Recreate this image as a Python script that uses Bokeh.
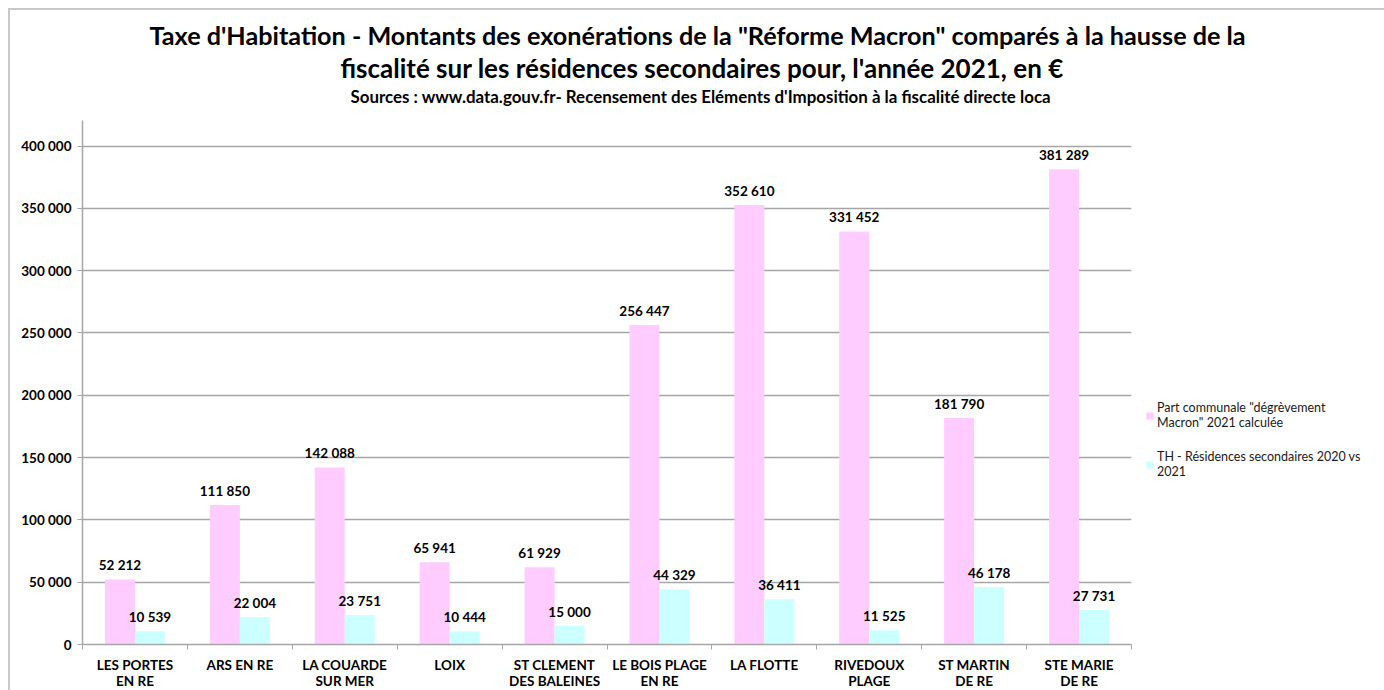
from bokeh.plotting import figure
from bokeh.models import ColumnDataSource, FixedTicker, Legend, LegendItem, Title
from bokeh.core.properties import value
from bokeh.embed import file_html
from bokeh.resources import INLINE
import numpy as np

communes = ["LES PORTES\nEN RE", "ARS EN RE", "LA COUARDE\nSUR MER", "LOIX",
            "ST CLEMENT\nDES BALEINES", "LE BOIS PLAGE\nEN RE", "LA FLOTTE",
            "RIVEDOUX\nPLAGE", "ST MARTIN\nDE RE", "STE MARIE\nDE RE"]
degrevement = [52212, 111850, 142088, 65941, 61929, 256447, 352610, 331452, 181790, 381289]
residences = [10539, 22004, 23751, 10444, 15000, 44329, 36411, 11525, 46178, 27731]
y_ticks = [0, 50000, 100000, 150000, 200000, 250000, 300000, 350000, 400000]

series_names = ["Part communale \"dégrèvement\nMacron\" 2021 calculée",
                "TH - Résidences secondaires 2020 vs\n2021"]
titles = ["Taxe d'Habitation - Montants des exonérations de la \"Réforme Macron\" comparés à la hausse de la",
          "fiscalité sur les résidences secondaires pour, l'année 2021, en €"]
subtitle = "Sources : www.data.gouv.fr- Recensement des Eléments d'Imposition à la fiscalité directe loca"

FONT = "Lato"
PINK = "#FFCCFF"
CYAN = "#CCFFFF"
GRID = "#A6A6A6"


def fmt(v):
    return f"{v:,}".replace(",", " ")


n = len(communes)
centers = np.arange(n) + 0.5
bw = 0.286

src1 = ColumnDataSource(dict(x=centers - bw / 2, top=degrevement,
                             lab=[fmt(v) for v in degrevement]))
src2 = ColumnDataSource(dict(x=centers + bw / 2, top=residences,
                             lab=[fmt(v) for v in residences]))

p = figure(frame_width=1049, frame_height=524, x_range=(0, n), y_range=(0, 420500),
           output_backend="svg", toolbar_location=None, title=None,
           min_border_left=72, min_border_right=253, min_border_top=110,
           min_border_bottom=46, background_fill_color="white",
           border_fill_color="white")
p.outline_line_color = None
p.styles = {"margin-left": "8px", "margin-top": "8px",
            "border-top": "2px solid #C8C8C8", "border-left": "2px solid #C8C8C8"}

r1 = p.vbar(x="x", top="top", width=bw, source=src1, fill_color=PINK, line_color=None)
r2 = p.vbar(x="x", top="top", width=bw, source=src2, fill_color=CYAN, line_color=None)

for s in (src1, src2):
    p.text(x="x", y="top", text="lab", source=s, text_align="center",
           text_baseline="middle", y_offset=-14, text_font=value(FONT),
           text_font_style="bold", text_font_size="13.5px", text_color="black")

# y axis
p.yaxis.ticker = FixedTicker(ticks=y_ticks)
p.yaxis.major_label_overrides = {v: fmt(v) for v in y_ticks}
p.yaxis.major_label_text_font = FONT
p.yaxis.major_label_text_font_style = "bold"
p.yaxis.major_label_text_font_size = "13.5px"
p.yaxis.major_label_text_color = "black"
p.yaxis.axis_line_color = GRID
p.yaxis.axis_line_width = 1.5
p.yaxis.major_tick_line_color = GRID
p.yaxis.major_tick_out = 5
p.yaxis.major_tick_in = 0
p.yaxis.minor_tick_line_color = None
p.yaxis.major_label_standoff = 6

# x axis: labels at category centres, ticks at category boundaries
p.xaxis.ticker = FixedTicker(ticks=list(centers), minor_ticks=list(range(n + 1)))
p.xaxis.major_label_overrides = {float(c): lab for c, lab in zip(centers, communes)}
p.xaxis.major_label_text_font = FONT
p.xaxis.major_label_text_font_style = "bold"
p.xaxis.major_label_text_font_size = "13.5px"
p.xaxis.major_label_text_color = "black"
p.xaxis.major_label_text_line_height = 1.0
p.xaxis.major_label_standoff = 6
p.xaxis.axis_line_color = GRID
p.xaxis.axis_line_width = 1.5
p.xaxis.major_tick_line_color = None
p.xaxis.minor_tick_line_color = GRID
p.xaxis.minor_tick_out = 5
p.xaxis.minor_tick_in = 0

p.xgrid.grid_line_color = None
p.ygrid.grid_line_color = GRID
p.ygrid.grid_line_width = 1.5

# titles: the first one added sits closest to the plot
p.add_layout(Title(text=" ", text_font_size="1px", standoff=11), "above")
p.add_layout(Title(text=subtitle, text_font=FONT, text_font_style="bold", text_color="black",
                   text_font_size="16.9px", align="left", offset=268, standoff=0), "above")
p.add_layout(Title(text=titles[1], text_font=FONT, text_font_style="bold", text_color="black",
                   text_font_size="26px", align="left", offset=258, standoff=0), "above")
p.add_layout(Title(text=titles[0], text_font=FONT, text_font_style="bold", text_color="black",
                   text_font_size="25.2px", align="left", offset=67, standoff=0), "above")

legend = Legend(items=[LegendItem(label=series_names[0], renderers=[r1]),
                       LegendItem(label=series_names[1], renderers=[r2])],
                location=(14, 165), label_text_font=FONT, label_text_font_size="12.5px",
                label_text_color="#1A1A1A",
                glyph_width=9, glyph_height=9, spacing=19, padding=0, margin=0,
                border_line_color=None, background_fill_alpha=0, label_standoff=3)
p.add_layout(legend, "right")

open("out.html", "w").write(file_html(p, INLINE))
